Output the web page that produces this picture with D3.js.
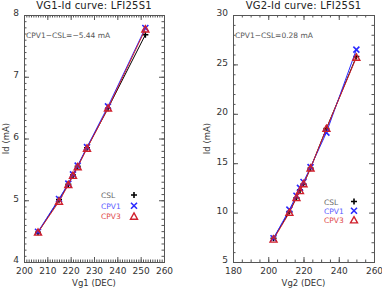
<!DOCTYPE html>
<html>
<head>
<meta charset="utf-8">
<script src="https://cdn.jsdelivr.net/npm/d3@7"></script>
<style>
  body { margin: 0; background: #fff; }
  svg { display: block; font-family: "DejaVu Sans", sans-serif; }
</style>
</head>
<body>
<div id="chart"></div>
<script>
// Panel 1: VG1 sweep
var vg1 = [206, 215, 219, 221, 223, 227, 236, 252];
var csl1 = [4.48, 5.01, 5.26, 5.41, 5.55, 5.85, 6.49, 7.68];
var cpv1a = [4.49, 5.02, 5.27, 5.42, 5.56, 5.86, 6.52, 7.79];
var cpv3a = [4.48, 4.98, 5.25, 5.40, 5.54, 5.84, 6.49, 7.77];

// Panel 2: VG2 sweep
var vg2 = [203, 212, 216, 218, 220, 224, 233, 250];
var csl2 = [7.4, 10.1, 11.5, 12.3, 12.9, 14.5, 18.5, 25.8];
var cpv1b = [7.4, 10.3, 11.7, 12.5, 13.1, 14.6, 18.1, 26.5];
var cpv3b = [7.3, 10.0, 11.5, 12.2, 12.9, 14.5, 18.5, 25.7];

var xTicks1 = [200, 210, 220, 230, 240, 250, 260];
var yTicks1 = [4, 5, 6, 7, 8];
var xTicks2 = [180, 200, 220, 240, 260];
var yTicks2 = [5, 10, 15, 20, 25, 30];

var seriesNames = ["CSL", "CPV1", "CPV3"];
var seriesColors = ["#000000", "#2a2aff", "#d0202c"];
var legendColors = ["#666666", "#5a5aff", "#e04848"];
var symbols = ["plus", "cross", "triangle"];

var svg = d3.select("#chart").append("svg")
  .attr("width", 382)
  .attr("height", 289);

function marker(g, type, x, y, color) {
  if (type == "plus") {
    g.append("path").attr("d", "M" + (x - 3) + "," + y + "h6M" + x + "," + (y - 3) + "v6")
      .attr("stroke", color).attr("stroke-width", 1.6).attr("fill", "none");
  } else if (type == "cross") {
    g.append("path").attr("d", "M" + (x - 3) + "," + (y - 3) + "l6,6M" + (x - 3) + "," + (y + 3) + "l6,-6")
      .attr("stroke", color).attr("stroke-width", 1.6).attr("fill", "none");
  } else {
    g.append("path").attr("d", "M" + x + "," + (y - 3.5) + "L" + (x + 3.5) + "," + (y + 2.8) + "L" + (x - 3.5) + "," + (y + 2.8) + "Z")
      .attr("stroke", color).attr("stroke-width", 1.4).attr("fill", "none");
  }
}

function panel(opt) {
  var g = svg.append("g");
  var x = d3.scaleLinear().domain(opt.xDomain).range([opt.left, opt.right]);
  var y = d3.scaleLinear().domain(opt.yDomain).range([opt.bottom, opt.top]);

  // ticks, inward on all four sides
  var minorX = d3.range(opt.xDomain[0], opt.xDomain[1] + 0.001, opt.xMinor);
  var minorY = d3.range(opt.yDomain[0], opt.yDomain[1] + 0.0001, opt.yMinor);

  g.append("g").attr("transform", "translate(0," + opt.bottom + ")")
    .call(d3.axisBottom(x).tickValues(minorX).tickSize(-2.5).tickFormat(""));
  g.append("g").attr("transform", "translate(0," + opt.top + ")")
    .call(d3.axisTop(x).tickValues(minorX).tickSize(-2.5).tickFormat(""));
  g.append("g").attr("transform", "translate(" + opt.left + ",0)")
    .call(d3.axisLeft(y).tickValues(minorY).tickSize(-2.5).tickFormat(""));
  g.append("g").attr("transform", "translate(" + opt.right + ",0)")
    .call(d3.axisRight(y).tickValues(minorY).tickSize(-2.5).tickFormat(""));

  g.append("g").attr("transform", "translate(0," + opt.bottom + ")")
    .call(d3.axisBottom(x).tickValues(opt.xTicks).tickSize(-5).tickPadding(6));
  g.append("g").attr("transform", "translate(0," + opt.top + ")")
    .call(d3.axisTop(x).tickValues(opt.xTicks).tickSize(-5).tickFormat(""));
  var yl = g.append("g").attr("transform", "translate(" + opt.left + ",0)")
    .call(d3.axisLeft(y).tickValues(opt.yTicks).tickSize(-5).tickPadding(5).tickFormat(d3.format("d")));
  g.append("g").attr("transform", "translate(" + opt.right + ",0)")
    .call(d3.axisRight(y).tickValues(opt.yTicks).tickSize(-5).tickFormat(""));

  g.selectAll(".domain").attr("stroke", "#555");
  g.selectAll(".tick line").attr("stroke", "#555");
  g.selectAll(".tick text").attr("fill", "#333").style("font-size", "9px")
    .style("font-family", "DejaVu Sans, sans-serif");
  yl.selectAll(".tick text").attr("dy", "0.1em");

  // title + axis labels
  g.append("text").attr("x", (opt.left + opt.right) / 2).attr("y", 9)
    .attr("text-anchor", "middle").style("font-size", "10px").attr("fill", "#222")
    .style("letter-spacing", "0.2px").text(opt.title);
  g.append("text").attr("x", (opt.left + opt.right) / 2).attr("y", 286)
    .attr("text-anchor", "middle").style("font-size", "8.5px").attr("fill", "#333")
    .text(opt.xLabel);
  g.append("text")
    .attr("transform", "translate(" + opt.yLabelX + "," + ((opt.top + opt.bottom) / 2) + ") rotate(-90)")
    .attr("text-anchor", "middle").style("font-size", "8.5px").attr("fill", "#333")
    .text("Id (mA)");

  g.append("text").attr("x", opt.left + 2).attr("y", 38)
    .style("font-size", "7.5px").attr("fill", "#555").text(opt.note);

  // series
  var line = d3.line().x(d => x(d[0])).y(d => y(d[1]));
  opt.series.forEach(function (vals, i) {
    var pts = opt.xs.map((v, j) => [v, vals[j]]);
    g.append("path").datum(pts).attr("d", line)
      .attr("fill", "none").attr("stroke", seriesColors[i]).attr("stroke-width", 1);
    pts.forEach(function (p) {
      marker(g, symbols[i], x(p[0]), y(p[1]), seriesColors[i]);
    });
  });

  // legend
  seriesNames.forEach(function (name, i) {
    var ly = opt.legY + i * opt.legStep;
    g.append("text").attr("x", opt.legX).attr("y", ly + 3)
      .style("font-size", "7.5px").attr("fill", legendColors[i]).text(name);
    marker(g, symbols[i], opt.legMX, ly, seriesColors[i]);
  });
}

panel({
  left: 24, right: 164, top: 15, bottom: 262,
  xDomain: [200, 260], yDomain: [4, 8],
  xTicks: xTicks1, yTicks: yTicks1, xMinor: 1, yMinor: 0.1,
  xs: vg1, series: [csl1, cpv1a, cpv3a],
  title: "VG1-Id curve: LFI25S1", xLabel: "Vg1 (DEC)", yLabelX: 9,
  note: "CPV1\u2212CSL=\u22125.44 mA",
  legX: 101, legMX: 134, legY: 195, legStep: 10.7
});

panel({
  left: 233, right: 374, top: 15, bottom: 262,
  xDomain: [180, 260], yDomain: [5, 30],
  xTicks: xTicks2, yTicks: yTicks2, xMinor: 5, yMinor: 1,
  xs: vg2, series: [csl2, cpv1b, cpv3b],
  title: "VG2-Id curve: LFI25S1", xLabel: "Vg2 (DEC)", yLabelX: 210,
  note: "CPV1\u2212CSL=0.28 mA",
  legX: 324, legMX: 354, legY: 201.5, legStep: 9.3
});
</script>
</body>
</html>
